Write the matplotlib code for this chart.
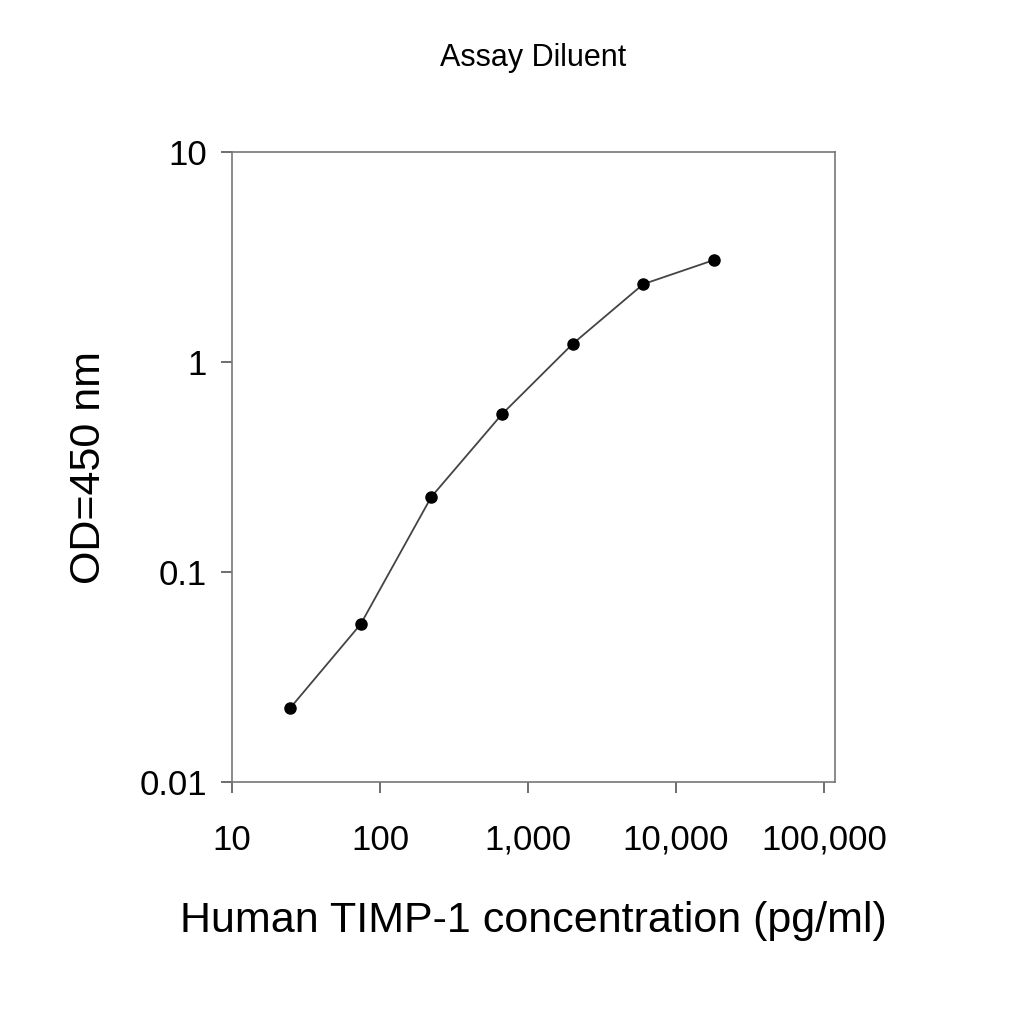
import numpy as np
import matplotlib.pyplot as plt
from matplotlib.ticker import FixedLocator, NullLocator

# data
conc = [24.7, 74, 222, 667, 2000, 6000, 18000]
od = [0.0225, 0.0565, 0.228, 0.565, 1.22, 2.35, 3.06]

x_ticks = [10, 100, 1000, 10000, 100000]
x_labels = ['10', '100', '1,000', '10,000', '100,000']
y_ticks = [0.01, 0.1, 1, 10]
y_labels = ['0.01', '0.1', '1', '10']

plt.rcParams['font.family'] = ['Liberation Sans', 'DejaVu Sans']

fig = plt.figure(figsize=(10.24, 10.24), dpi=100)
ax = fig.add_axes([0.2266, 0.2363, 0.5889, 0.6152])

ax.plot(conc, od, color='#444444', lw=1.3, marker='o', ms=8,
        markerfacecolor='black', markeredgecolor='black')

ax.set_xscale('log')
ax.set_yscale('log')
ax.set_xlim(10, 10 ** 5.074)
ax.set_ylim(0.01, 10)

ax.xaxis.set_major_locator(FixedLocator(x_ticks))
ax.xaxis.set_minor_locator(NullLocator())
ax.yaxis.set_major_locator(FixedLocator(y_ticks))
ax.yaxis.set_minor_locator(NullLocator())
ax.set_xticklabels(x_labels)
ax.set_yticklabels(y_labels)
ax.tick_params(direction='out', length=8, width=1.2, labelsize=25, pad=22, color='#555555')
ax.tick_params(axis='y', pad=10)

for s in ax.spines.values():
    s.set_color('#777777')
    s.set_linewidth(1.2)

ax.set_xlabel('Human TIMP-1 concentration (pg/ml)', fontsize=31, labelpad=32)
ax.set_ylabel('OD=450 nm', fontsize=31, labelpad=22)
ax.set_title('Assay Diluent', fontsize=22, pad=62)

fig.savefig('out.png', dpi=100, facecolor='white')
